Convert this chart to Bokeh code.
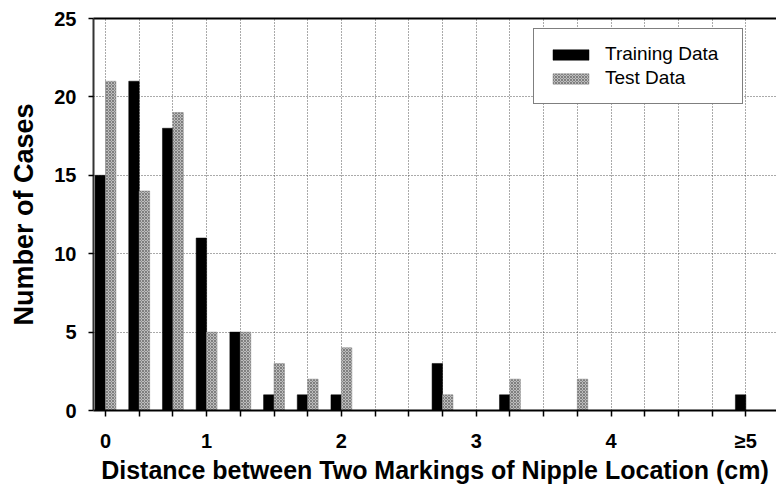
from bokeh.plotting import figure
from bokeh.models import (FixedTicker, LinearAxis, Range1d, Legend, LegendItem,
                          ColumnDataSource)
from bokeh.embed import file_html
from bokeh.resources import INLINE

# Histogram bins (0.25 cm wide), number of cases per bin
bin_index = list(range(20))
training = [15, 21, 18, 11, 5, 1, 1, 1, 0, 0, 3, 0, 1, 0, 0, 0, 0, 0, 0, 1]
test = [21, 14, 19, 5, 5, 3, 2, 4, 0, 0, 1, 0, 2, 0, 2, 0, 0, 0, 0, 0]

# Axis tick labels on the distance axis
tick_positions = [0, 3, 7, 11, 15, 19]
tick_labels = ["0", "1", "2", "3", "4", "\u22655"]
y_ticks = [0, 5, 10, 15, 20, 25]

FONT = "Liberation Sans"
BAR_W = 0.31

src = ColumnDataSource(dict(
    x_train=[i - BAR_W / 2 for i in bin_index],
    x_test=[i + BAR_W / 2 for i in bin_index],
    training=training,
    test=test,
))

p = figure(width=776, height=488, output_backend="svg", toolbar_location=None,
           x_range=Range1d(-0.356, 19.91), y_range=Range1d(0, 25),
           min_border_left=93, min_border_right=0, min_border_top=18,
           min_border_bottom=78, outline_line_color=None,
           background_fill_color="white", border_fill_color="white")

r_train = p.vbar(x="x_train", top="training", width=BAR_W, source=src,
                 fill_color="black", line_color="black", line_width=0.5)
r_test = p.vbar(x="x_test", top="test", width=BAR_W, source=src,
                fill_color="#bdbdbd", line_color="#8a8a8a", line_width=0.5,
                hatch_pattern="x", hatch_color="#6e6e6e", hatch_scale=3,
                hatch_weight=0.8)

# x axis
xa = p.xaxis[0]
xa.ticker = FixedTicker(ticks=bin_index)
overrides = {i: "" for i in bin_index}
for pos, lab in zip(tick_positions, tick_labels):
    overrides[pos] = lab
xa.major_label_overrides = overrides
xa.minor_tick_line_color = None
xa.major_tick_in = 0
xa.major_tick_out = 6
xa.major_tick_line_width = 1.5
xa.axis_line_width = 2
xa.major_label_standoff = 13
xa.major_label_text_font = FONT
xa.major_label_text_font_style = "bold"
xa.major_label_text_font_size = "20px"
xa.major_label_text_color = "black"
xa.axis_label = "Distance between Two Markings of Nipple Location (cm)"
xa.axis_label_text_font = FONT
xa.axis_label_text_font_style = "bold"
xa.axis_label_text_font_size = "25px"
xa.axis_label_text_color = "black"
xa.axis_label_standoff = 1

# y axis
ya = p.yaxis[0]
ya.ticker = FixedTicker(ticks=y_ticks)
ya.minor_tick_line_color = None
ya.major_tick_in = 0
ya.major_tick_out = 5
ya.major_tick_line_width = 1.5
ya.axis_line_width = 2
ya.axis_line_color = "#333333"
ya.major_label_standoff = 12
ya.major_label_text_font = FONT
ya.major_label_text_font_style = "bold"
ya.major_label_text_font_size = "20px"
ya.major_label_text_color = "black"
ya.axis_label = "Number of Cases"
ya.axis_label_text_font = FONT
ya.axis_label_text_font_style = "bold"
ya.axis_label_text_font_size = "27px"
ya.axis_label_text_color = "black"
ya.axis_label_standoff = 12

# top frame line
top = LinearAxis(ticker=FixedTicker(ticks=[]), major_tick_out=0, major_tick_in=0,
                 minor_tick_out=0, minor_tick_in=0, major_label_text_font_size="0px",
                 axis_line_width=2)
p.add_layout(top, "above")

# dotted grid
p.xgrid.ticker = FixedTicker(ticks=bin_index)
p.ygrid.ticker = FixedTicker(ticks=[5, 10, 15, 20])
for g in (p.xgrid[0], p.ygrid[0]):
    g.grid_line_color = "#555555"
    g.grid_line_dash = "1 2"
    g.grid_line_width = 1

legend = Legend(items=[LegendItem(label="Training Data", renderers=[r_train]),
                       LegendItem(label="Test Data", renderers=[r_test])],
                location=(440, 306), glyph_width=45, glyph_height=13,
                label_text_font=FONT, label_text_font_size="19px",
                label_text_color="black", label_width=123,
                label_standoff=12, padding=14, spacing=2, margin=0,
                border_line_color="black", border_line_width=1.5,
                background_fill_color="white", background_fill_alpha=1)
p.add_layout(legend, "center")

open("out.html", "w").write(file_html(p, INLINE))
